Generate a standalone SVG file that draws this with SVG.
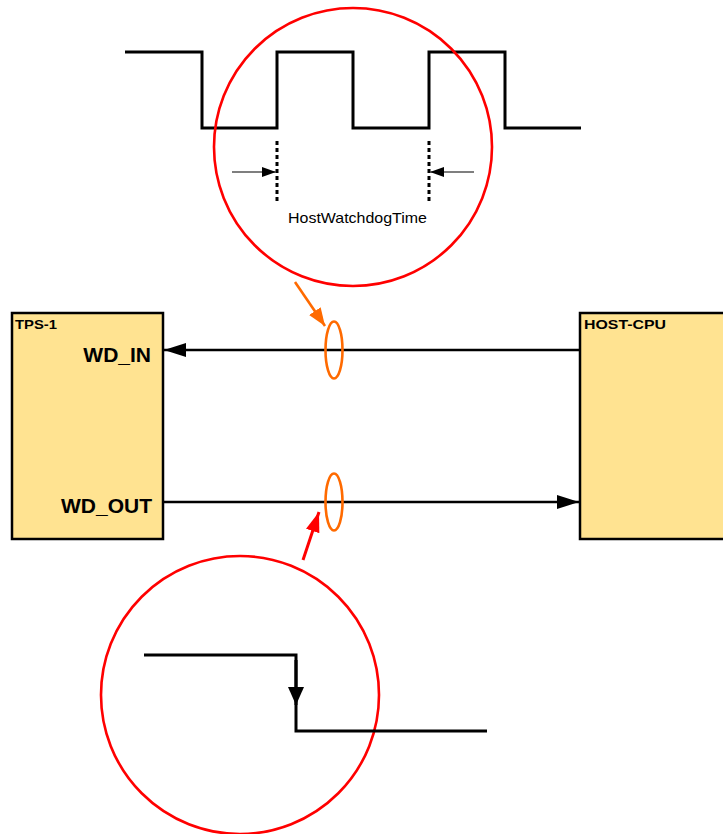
<svg xmlns="http://www.w3.org/2000/svg" width="723" height="834" viewBox="0 0 723 834">
<style>
.box{fill:#FFE391;stroke:#000;stroke-width:2.5}
.wave{fill:none;stroke:#000;stroke-width:3;stroke-linejoin:miter}
.conn{fill:none;stroke:#000;stroke-width:2.6}
.ring{fill:none;stroke:#FF0000;stroke-width:2.6}
.tap{fill:none;stroke:#FF6A00;stroke-width:2.6}
.lbl{font-family:"Liberation Sans",Arial,sans-serif;font-weight:bold;fill:#000}
.note{font-family:"Liberation Sans",Arial,sans-serif;fill:#000}
</style>
<defs>
<marker id="ah" viewBox="0 0 22 14" refX="22" refY="7" markerWidth="22" markerHeight="14" markerUnits="userSpaceOnUse" orient="auto">
<path d="M0,0 L22,7 L0,14 Z" fill="#000"/>
</marker>
<marker id="ahs" viewBox="0 0 14 10" refX="14" refY="5" markerWidth="14" markerHeight="10" markerUnits="userSpaceOnUse" orient="auto">
<path d="M0,0 L14,5 L0,10 Z" fill="#000"/>
</marker>
<marker id="aho" viewBox="0 0 18 14" refX="18" refY="7" markerWidth="18" markerHeight="14" markerUnits="userSpaceOnUse" orient="auto">
<path d="M0,0 L18,7 L0,14 Z" fill="#FF6A00"/>
</marker>
<marker id="ahr" viewBox="0 0 20 14" refX="20" refY="7" markerWidth="20" markerHeight="14" markerUnits="userSpaceOnUse" orient="auto">
<path d="M0,0 L20,7 L0,14 Z" fill="#FF0000"/>
</marker>
<marker id="ahw" viewBox="0 0 18 16" refX="18" refY="8" markerWidth="18" markerHeight="16" markerUnits="userSpaceOnUse" orient="auto">
<path d="M0,0 L18,8 L0,16 Z" fill="#000"/>
</marker>
</defs>

<g id="top-wave">
<path class="wave" d="M125,52 H202 V128 H277 V52 H353 V128 H429 V52 H505 V128 H581"/>
<line x1="277" y1="141" x2="277" y2="204" stroke="#000" stroke-width="3" stroke-dasharray="4,3"/>
<line x1="429" y1="141" x2="429" y2="204" stroke="#000" stroke-width="3" stroke-dasharray="4,3"/>
<line x1="232" y1="172" x2="276" y2="172" stroke="#555" stroke-width="1.3" marker-end="url(#ahs)"/>
<line x1="474" y1="172" x2="430" y2="172" stroke="#555" stroke-width="1.3" marker-end="url(#ahs)"/>
<text class="note" x="288" y="223" font-size="14.5" textLength="139" lengthAdjust="spacingAndGlyphs">HostWatchdogTime</text>
</g>

<g id="top-circle">
<circle class="ring" cx="353" cy="147" r="139"/>
</g>

<g id="tps1">
<rect class="box" x="12" y="313" width="151" height="226"/>
<text class="lbl" x="15" y="329" font-size="13" textLength="42" lengthAdjust="spacingAndGlyphs">TPS-1</text>
<text class="lbl" x="151" y="362" font-size="21" text-anchor="end">WD_IN</text>
<text class="lbl" x="152" y="513" font-size="21" text-anchor="end">WD_OUT</text>
</g>

<g id="host-cpu">
<rect class="box" x="580" y="313" width="160" height="226"/>
<text class="lbl" x="584" y="329" font-size="13" textLength="82" lengthAdjust="spacingAndGlyphs">HOST-CPU</text>
</g>

<g id="connectors">
<line class="conn" x1="580" y1="350" x2="164" y2="350" marker-end="url(#ah)"/>
<line class="conn" x1="163" y1="502" x2="579" y2="502" marker-end="url(#ah)"/>
<line class="tap" x1="295" y1="282" x2="325" y2="326" marker-end="url(#aho)"/>
<line x1="303" y1="560" x2="319" y2="512" stroke="#FF0000" stroke-width="3" marker-end="url(#ahr)"/>
</g>

<g id="tap-in">
<ellipse class="tap" cx="334" cy="350" rx="8.5" ry="28.5"/>
</g>
<g id="tap-out">
<ellipse class="tap" cx="334" cy="502" rx="8.5" ry="28.5"/>
</g>

<g id="bottom-circle">
<circle class="ring" cx="240" cy="695" r="139"/>
<path class="wave" d="M144,655 H296 V731 H487"/>
<line x1="296" y1="660" x2="296" y2="705" stroke="#000" stroke-width="3" marker-end="url(#ahw)"/>
</g>
</svg>
